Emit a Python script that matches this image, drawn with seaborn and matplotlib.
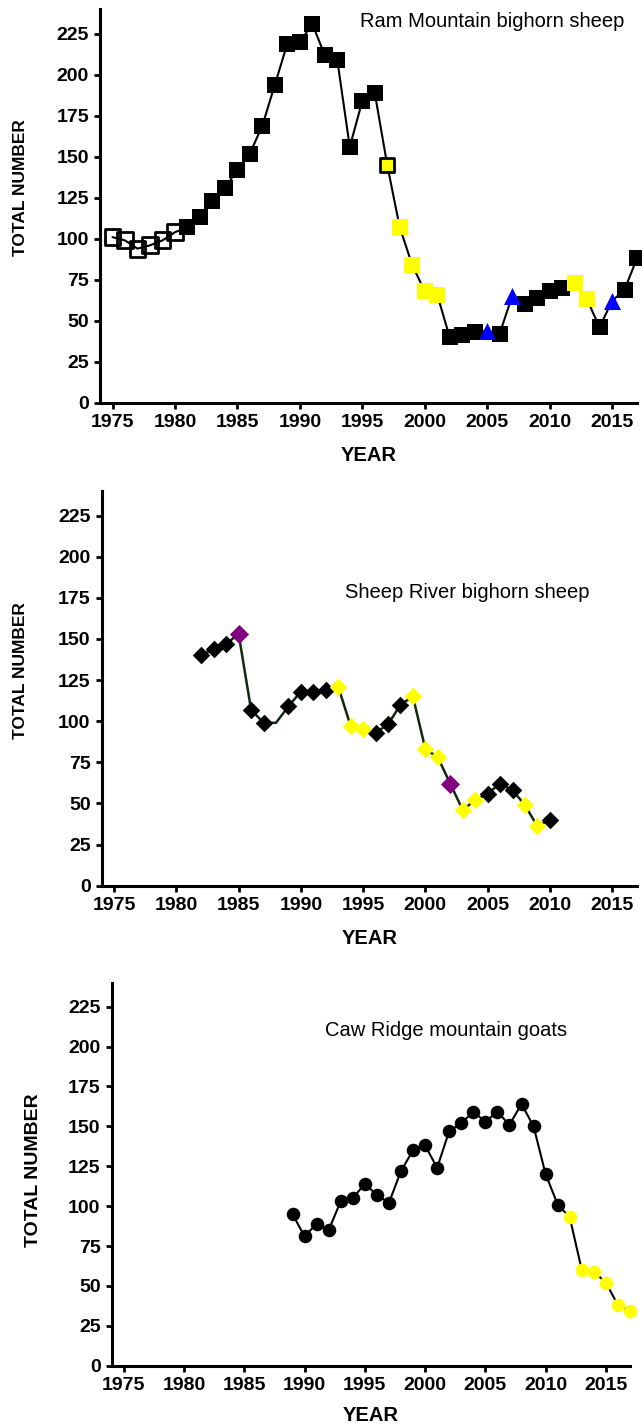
import numpy as np
import pandas as pd
import seaborn as sns
import matplotlib
matplotlib.use("Agg")
import matplotlib.pyplot as plt

# Ram Mountain bighorn sheep
ram_years = list(range(1975, 2018))
ram_counts = [101, 99, 94, 96, 99, 104, 107, 113, 123, 131,
              142, 152, 169, 194, 219, 220, 231, 212, 209, 156,
              184, 189, 145, 107, 84, 68, 66, 40, 41, 43,
              44, 42, 65, 60, 64, 68, 70, 73, 63, 46,
              62, 69, 88]
ram_kind = (["open"] * 6 + ["black"] * 16 + ["yedge"] + ["yellow"] * 4 +
            ["black"] * 3 + ["blue", "black", "blue"] + ["black"] * 4 +
            ["yellow"] * 2 + ["black", "blue", "black", "black"])

# Sheep River bighorn sheep
sr_years = list(range(1982, 2011))
sr_counts = [140, 144, 147, 153, 107, 99, 99, 109, 118, 118,
             119, 121, 97, 95, 93, 98, 110, 115, 83, 78,
             62, 46, 52, 56, 62, 58, 49, 36, 40]
sr_kind = (["black"] * 3 + ["purple"] + ["black"] * 2 + ["none"] + ["black"] * 4 +
           ["yellow"] * 3 + ["black"] * 3 + ["yellow"] * 3 + ["purple"] +
           ["yellow"] * 2 + ["black"] * 3 + ["yellow"] * 2 + ["black"])

# Caw Ridge mountain goats
caw_years = list(range(1989, 2018))
caw_counts = [95, 81, 89, 85, 103, 105, 114, 107, 102, 122,
              135, 138, 124, 147, 152, 159, 153, 159, 151, 164,
              150, 120, 101, 93, 60, 59, 52, 38, 34]
caw_kind = ["black"] * 23 + ["yellow"] * 6

sns.set_style("ticks")
plt.rcParams['font.family'] = ['Liberation Sans', 'DejaVu Sans']
plt.rcParams.update({"text.color": "black", "axes.labelcolor": "black",
                     "xtick.color": "black", "ytick.color": "black",
                     "axes.edgecolor": "black"})

fig = plt.figure(figsize=(6.42, 14.25), dpi=100)
ax_ram = fig.add_axes([0.1558, 0.7174, 0.8364, 0.2761])
ax_sr = fig.add_axes([0.1584, 0.3785, 0.8338, 0.2770])
ax_caw = fig.add_axes([0.1740, 0.0416, 0.8073, 0.2688])

# marker styles per kind: (marker, size, face, edge, edge width)
styles = {
    "open": ("s", 130, "none", "black", 2.0),
    "black": ("s", 135, "black", "black", 0),
    "yedge": ("s", 115, "#ffff00", "black", 2.0),
    "yellow": ("s", 125, "#ffff00", "#ffff00", 0),
    "blue": ("^", 150, "#0000ff", "#0000ff", 0),
}
sr_styles = {
    "black": ("D", 80, "black", "black", 0),
    "purple": ("D", 95, "#800080", "#800080", 0),
    "yellow": ("D", 80, "#ffff00", "#ffff00", 0),
}
caw_styles = {
    "black": ("o", 95, "black", "black", 0),
    "yellow": ("o", 95, "#ffff00", "#ffff00", 0),
}


def draw(ax, years, counts, kinds, style_map, line_color, lw):
    df = pd.DataFrame({"year": years, "count": counts, "kind": kinds})
    sns.lineplot(data=df, x="year", y="count", color=line_color, linewidth=lw,
                 sort=False, estimator=None, ax=ax, zorder=2)
    for kind, (mk, s, fc, ec, elw) in style_map.items():
        sub = df[df["kind"] == kind]
        if sub.empty:
            continue
        sns.scatterplot(data=sub, x="year", y="count", marker=mk, s=s,
                        facecolor=fc, edgecolor=ec, linewidth=elw,
                        ax=ax, zorder=3, clip_on=False)


draw(ax_ram, ram_years, ram_counts, ram_kind, styles, "black", 1.5)
draw(ax_sr, sr_years, sr_counts, sr_kind, sr_styles, "#0f2a0f", 1.8)
draw(ax_caw, caw_years, caw_counts, caw_kind, caw_styles, "black", 1.5)

titles = [(ax_ram, "Ram Mountain bighorn sheep", 0.484, 0.968),
          (ax_sr, "Sheep River bighorn sheep", 0.4545, 0.742),
          (ax_caw, "Caw Ridge mountain goats", 0.4115, 0.874)]
for ax, t, tx, ty in titles:
    ax.text(tx, ty, t, transform=ax.transAxes, ha="left", va="center", fontsize=14.5)

ylab_pos = {ax_ram: (-0.149, 0.547, 12.5), ax_sr: (-0.1526, 0.546, 12.5),
            ax_caw: (-0.1513, 0.51, 14)}
xlab_pos = {ax_ram: -0.1347, ax_sr: -0.134, ax_caw: -0.1287}

for ax in (ax_ram, ax_sr, ax_caw):
    ax.set_xlim(1974, 2017)
    ax.set_ylim(0, 240)
    ax.set_xticks(np.arange(1975, 2016, 5))
    ax.set_yticks(np.arange(0, 226, 25))
    sns.despine(ax=ax)
    for sp in ("left", "bottom"):
        ax.spines[sp].set_linewidth(2.2)
    ax.tick_params(axis="both", length=4, width=2, labelsize=14, pad=4)
    for lab in ax.get_xticklabels() + ax.get_yticklabels():
        lab.set_fontweight("bold")
    yx, yy, yfs = ylab_pos[ax]
    ax.set_ylabel("TOTAL NUMBER", fontsize=yfs, fontweight="bold")
    ax.yaxis.label.set_va("center")
    ax.yaxis.set_label_coords(yx, yy)
    ax.set_xlabel("YEAR", fontsize=14.5, fontweight="bold")
    ax.xaxis.label.set_va("center")
    ax.xaxis.set_label_coords(0.5, xlab_pos[ax])

fig.savefig("out.png", dpi=100)
